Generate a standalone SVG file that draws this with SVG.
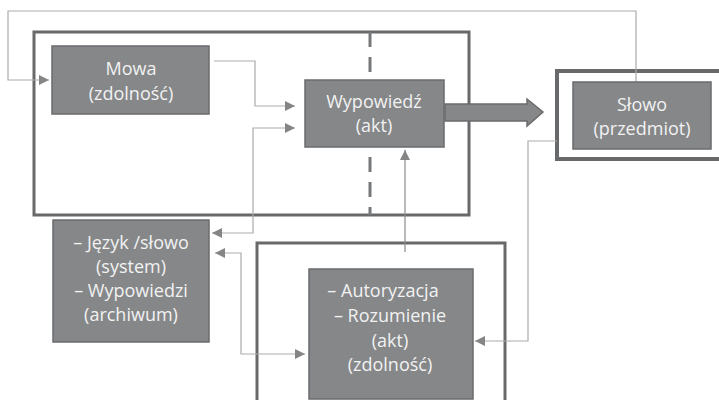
<svg xmlns="http://www.w3.org/2000/svg" width="719" height="400" viewBox="0 0 719 400">
<style>
.frame{fill:none;stroke:#68696b;stroke-width:3}
.box{fill:#858789;stroke:#6a6b6d;stroke-width:1.5}
.t{font-family:"Open Sans","Noto Sans",sans-serif;font-size:18px;fill:#f2f2f2;text-anchor:middle;dominant-baseline:central}
.c{fill:none;stroke:#ababab;stroke-width:1.2}
.cd{fill:none;stroke:#8a8a8a;stroke-width:1.2}
</style>
<defs>
<marker id="ah" viewBox="0 0 10 10" refX="10" refY="5" markerWidth="11" markerHeight="10" markerUnits="userSpaceOnUse" orient="auto-start-reverse">
<path d="M0,0 L10,5 L0,10 Z" fill="#858585"/>
</marker>
</defs>
<rect width="719" height="400" fill="#ffffff"/>
<g id="frames">
<rect class="frame" x="34" y="32" width="435" height="183"/>
<line x1="370" y1="32" x2="370" y2="215" stroke="#77787a" stroke-width="3" stroke-dasharray="15 10"/>
<rect class="frame" x="257" y="243" width="248" height="170"/>
<rect x="557" y="71" width="170" height="88" fill="none" stroke="#68696b" stroke-width="4"/>
</g>
<g id="connectors">
<polyline class="c" points="636,82 636,11 8,11 8,80 49,80" marker-end="url(#ah)"/>
<polyline class="c" points="214,61 255,61 255,106 295,106" marker-end="url(#ah)"/>
<polyline class="c" points="212,233 253,233 253,128 295,128" marker-start="url(#ah)" marker-end="url(#ah)"/>
<polyline class="c" points="215,253 241,253 241,354 305,354" marker-start="url(#ah)" marker-end="url(#ah)"/>
<polyline class="c" points="557,141 528,141 528,341 475,341" marker-end="url(#ah)"/>
<polyline class="cd" points="405,252 405,150" marker-end="url(#ah)"/>
<path d="M445,104 L527,104 L527,99 L543,112 L527,126 L527,121 L445,121 Z" fill="#858789" stroke="#6a6b6d" stroke-width="1.5"/>
</g>
<g id="mowa">
<rect class="box" x="52" y="46" width="157" height="68"/>
<text class="t" x="131" y="68">Mowa</text>
<text class="t" x="131" y="93">(zdolność)</text>
</g>
<g id="wypowiedz">
<rect class="box" x="305" y="80" width="139" height="67"/>
<text class="t" x="374" y="101">Wypowiedź</text>
<text class="t" x="374" y="125">(akt)</text>
</g>
<g id="slowo">
<rect class="box" x="573" y="82" width="138" height="67"/>
<text class="t" x="642" y="104">Słowo</text>
<text class="t" x="642" y="128">(przedmiot)</text>
</g>
<g id="jezyk">
<rect class="box" x="53" y="220" width="156" height="122"/>
<text class="t" x="131" y="242">– Język /słowo</text>
<text class="t" x="131" y="266">(system)</text>
<text class="t" x="131" y="290">– Wypowiedzi</text>
<text class="t" x="131" y="314">(archiwum)</text>
</g>
<g id="autoryzacja">
<rect class="box" x="309" y="269" width="164" height="130"/>
<text class="t" x="383" y="290">– Autoryzacja</text>
<text class="t" x="390" y="315">– Rozumienie</text>
<text class="t" x="390" y="340">(akt)</text>
<text class="t" x="390" y="364">(zdolność)</text>
</g>
</svg>
